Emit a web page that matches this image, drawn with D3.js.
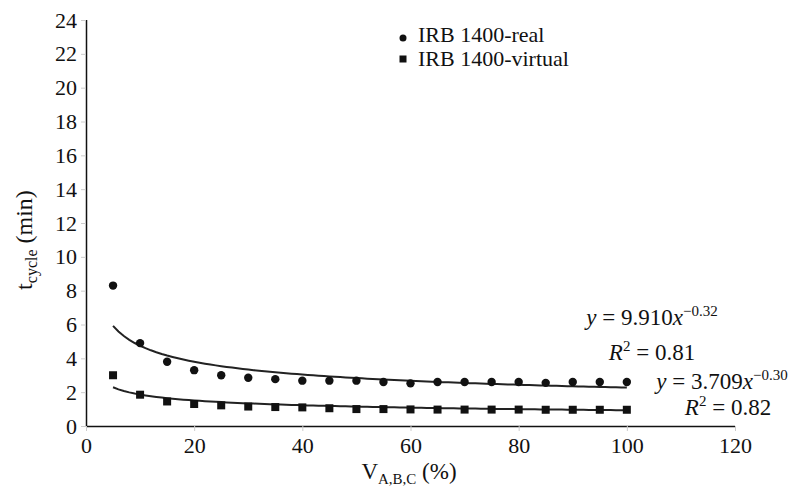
<!DOCTYPE html>
<html>
<head>
<meta charset="utf-8">
<script src="https://cdn.jsdelivr.net/npm/d3@7"></script>
<style>
  body { margin: 0; background: #fff; }
  svg text { fill: #111; }
</style>
</head>
<body>
<script>
// chart data
var seriesNames = ['IRB 1400-real', 'IRB 1400-virtual'];
var speeds = [5, 10, 15, 20, 25, 30, 35, 40, 45, 50, 55, 60, 65, 70, 75, 80, 85, 90, 95, 100];
var realTimes = [8.3, 4.9, 3.8, 3.3, 3.0, 2.85, 2.77, 2.68, 2.68, 2.68, 2.6, 2.52, 2.6, 2.6, 2.6, 2.6, 2.55, 2.6, 2.6, 2.6];
var virtualTimes = [3.0, 1.85, 1.45, 1.3, 1.22, 1.15, 1.12, 1.1, 1.05, 1.0, 1.0, 0.98, 0.97, 0.97, 0.97, 0.97, 0.96, 0.96, 0.96, 0.96];
var fitCoef = [9.910, 3.709];
var fitExp = [-0.32, -0.30];
var fitR2 = ['0.81', '0.82'];
var xTicks = [0, 20, 40, 60, 80, 100, 120];
var yTicks = [0, 2, 4, 6, 8, 10, 12, 14, 16, 18, 20, 22, 24];

var width = 801, height = 488;
var serif = '"Liberation Serif", "Times New Roman", serif';

var svg = d3.select('body').append('svg')
            .attr('width', width)
            .attr('height', height)
            .attr('font-family', serif);

var x = d3.scaleLinear().domain([0, 120]).range([86, 735]);
var y = d3.scaleLinear().domain([0, 24]).range([426, 20]);

// axes
var xAxis = d3.axisBottom(x).tickValues(xTicks).tickSize(5).tickPadding(6);
var yAxis = d3.axisLeft(y).tickValues(yTicks).tickSize(5).tickPadding(4);

var gx = svg.append('g').attr('transform', 'translate(0,426)').call(xAxis);
var gy = svg.append('g').attr('transform', 'translate(86,0)').call(yAxis);

[gx, gy].forEach(function(g) {
  g.attr('font-family', serif).attr('font-size', 22);
  g.select('.domain').attr('stroke', '#111').attr('stroke-width', 1.5);
  g.selectAll('.tick line').attr('stroke', '#ccc');
  g.selectAll('.tick text').attr('fill', '#111');
});
gx.select('.domain').attr('d', 'M86,0.5H735');
gy.select('.domain').attr('d', 'M0.5,20V426');

// axis titles
var yTitle = svg.append('text')
  .attr('transform', 'translate(32,240) rotate(-90)')
  .attr('text-anchor', 'middle')
  .attr('font-size', 24);
yTitle.append('tspan').text('t');
yTitle.append('tspan').attr('dy', 5).attr('font-size', 16).text('cycle');
yTitle.append('tspan').attr('dy', -5).text(' (min)');

var xTitle = svg.append('text')
  .attr('x', 409).attr('y', 479)
  .attr('text-anchor', 'middle')
  .attr('font-size', 23);
xTitle.append('tspan').text('V');
xTitle.append('tspan').attr('dy', 5).attr('font-size', 15).text('A,B,C');
xTitle.append('tspan').attr('dy', -5).text(' (%)');

// power trend lines
var line = d3.line()
  .x(function(d) { return x(d); });

var fitX = d3.range(5, 100.5, 1);
fitCoef.forEach(function(a, i) {
  svg.append('path')
    .attr('d', line.y(function(d) { return y(a * Math.pow(d, fitExp[i])); })(fitX))
    .attr('fill', 'none')
    .attr('stroke', '#222')
    .attr('stroke-width', 2);
});

// points
svg.append('g').selectAll('circle')
  .data(speeds)
  .enter().append('circle')
  .attr('cx', function(d) { return x(d); })
  .attr('cy', function(d, i) { return y(realTimes[i]); })
  .attr('r', 4.2)
  .attr('fill', '#111');

svg.append('g').selectAll('rect')
  .data(speeds)
  .enter().append('rect')
  .attr('x', function(d) { return x(d) - 4; })
  .attr('y', function(d, i) { return y(virtualTimes[i]) - 4; })
  .attr('width', 8).attr('height', 8)
  .attr('fill', '#111');

// legend
var legend = svg.append('g');
legend.append('circle').attr('cx', 403).attr('cy', 38).attr('r', 3.5).attr('fill', '#111');
legend.append('rect').attr('x', 399.5).attr('y', 55.5).attr('width', 7).attr('height', 7).attr('fill', '#111');
legend.selectAll('text')
  .data(seriesNames)
  .enter().append('text')
  .attr('x', 418)
  .attr('y', function(d, i) { return 42 + i * 24; })
  .attr('font-size', 22)
  .text(function(d) { return d; });

// equations
var eqPos = [[652, 325, 652, 360], [722, 389, 728, 415]];
fitCoef.forEach(function(a, i) {
  var eq = svg.append('text')
    .attr('x', eqPos[i][0]).attr('y', eqPos[i][1])
    .attr('text-anchor', 'middle')
    .attr('font-size', 23);
  eq.append('tspan').attr('font-style', 'italic').text('y');
  eq.append('tspan').text(' = ' + a.toFixed(3));
  eq.append('tspan').attr('font-style', 'italic').text('x');
  eq.append('tspan').attr('dy', -9).attr('font-size', 15)
    .text('\u2212' + Math.abs(fitExp[i]).toFixed(2));

  var r2 = svg.append('text')
    .attr('x', eqPos[i][2]).attr('y', eqPos[i][3])
    .attr('text-anchor', 'middle')
    .attr('font-size', 23);
  r2.append('tspan').attr('font-style', 'italic').text('R');
  r2.append('tspan').attr('dy', -9).attr('font-size', 15).text('2');
  r2.append('tspan').attr('dy', 9).text(' = ' + fitR2[i]);
});
</script>
</body>
</html>
